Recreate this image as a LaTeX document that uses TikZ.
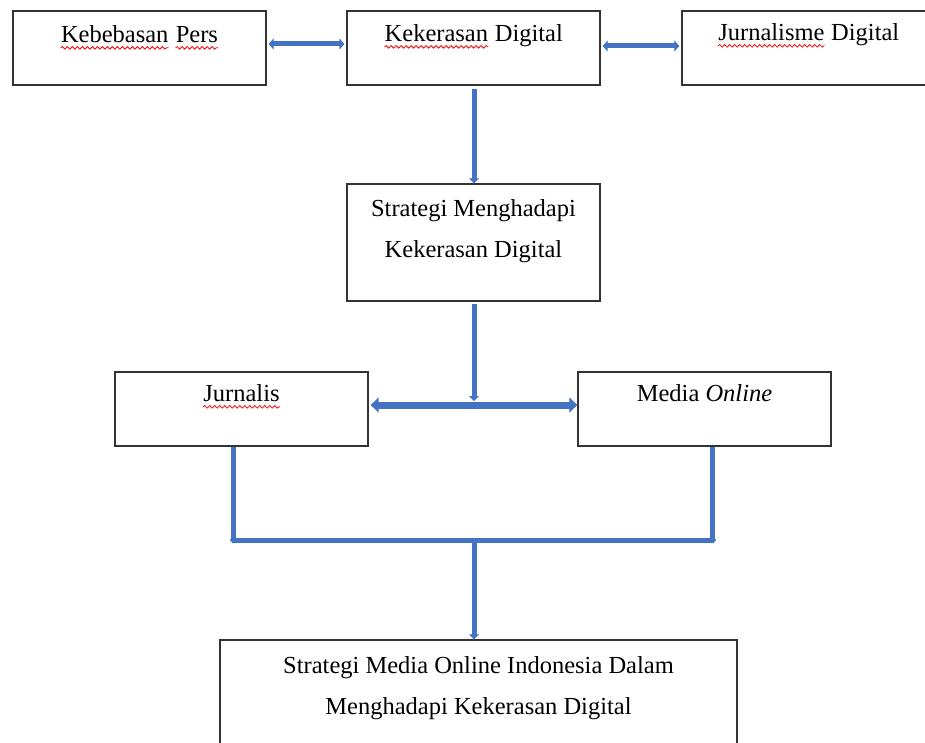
\documentclass[tikz,border=0pt]{standalone}
\usepackage{fontspec}
\setmainfont{Liberation Serif}
\usepackage{xcolor}
\definecolor{panahColor}{RGB}{68, 114, 196}
\usepackage{tikz}
\usetikzlibrary{arrows.meta, decorations.pathmorphing}
\newcommand{\salah}[1]{\tikz[baseline=(w.base)]{\node[inner sep=0pt, anchor=base] (w) {#1};
    \draw[red, line width=0.8pt, decorate, decoration={snake, amplitude=1.3pt, segment length=5pt}] ([yshift=-5.5pt]w.base west) -- ([yshift=-5.5pt]w.base east);}}

\begin{document}
\begin{tikzpicture}[x=1pt, y=-1pt,
    kotak/.style={draw=black!80, line width=1.3pt, inner sep=0pt, minimum width=253pt, minimum height=74pt},
    teks/.style={anchor=base, align=center, inner sep=0pt, font=\fontsize{24.5}{41}\selectfont},
    panah/.style={draw=panahColor, line width=5pt, -{Triangle[length=5pt, width=10pt]}},
    dua/.style={draw=panahColor, line width=5pt, {Triangle[length=5pt, width=11pt]}-{Triangle[length=5pt, width=11pt]}},
    garis/.style={draw=panahColor, line width=5pt}]
    \useasboundingbox (0,0) rectangle (925,743);
    \node[kotak] (pers) at (139.5,48) {};
    \node[kotak] (kekerasan) at (473.5,48) {};
    \node[kotak] (jurnalisme) at (808.5,48) {};
    \node[kotak, minimum height=117pt] (strategi) at (473.5,242.5) {};
    \node[kotak] (jurnalis) at (241.5,409) {};
    \node[kotak] (media) at (704.5,409) {};
    \node[kotak, minimum width=517pt, minimum height=130pt] (hasil) at (478.5,705) {};
    \node[teks] (tPers) at ([yshift=-32pt]pers.north) {\salah{Kebebasan} \salah{Pers}};
    \node[teks] (tKekerasan) at ([yshift=-31pt]kekerasan.north) {\salah{Kekerasan} Digital};
    \node[teks] (tJurnalisme) at ([yshift=-30pt]jurnalisme.north) {\salah{Jurnalisme} Digital};
    \node[teks] (tStrategi) at ([yshift=-74pt]strategi.north) {Strategi Menghadapi\\Kekerasan Digital};
    \node[teks] (tJurnalis) at ([yshift=-30pt]jurnalis.north) {\salah{Jurnalis}};
    \node[teks] (tMedia) at ([yshift=-30pt]media.north) {Media \textit{Online}};
    \node[teks] (tHasil) at ([yshift=-75pt]hasil.north) {Strategi Media Online Indonesia Dalam\\Menghadapi Kekerasan Digital};
    \coordinate (cabang) at (474,401);
    \coordinate (kiri) at (233,540);
    \coordinate (kanan) at (712,540);
    \coordinate (gabung) at (474,540);
    \draw[dua, shorten <=2pt, shorten >=2pt] ([yshift=4pt]pers.east) -- ([yshift=4pt]kekerasan.west);
    \draw[dua, shorten <=2pt, shorten >=2pt] ([yshift=2pt]kekerasan.east) -- ([yshift=2pt]jurnalisme.west);
    \draw[panah, shorten <=3pt] (kekerasan.south -| cabang) -- (strategi.north -| cabang);
    \draw[panah, shorten <=2pt] (strategi.south -| cabang) -- (cabang);
    \draw[dua, line width=7pt, {Triangle[length=8pt, width=15pt]}-{Triangle[length=8pt, width=15pt]}, shorten <=2pt] ([yshift=4pt]jurnalis.east) -- ([yshift=4pt]media.west);
    \draw[garis] (jurnalis.south -| kiri) -- (kiri);
    \draw[garis] (media.south -| kanan) -- (kanan);
    \draw[dua, line width=5pt, {Triangle[length=3pt, width=7pt]}-{Triangle[length=3pt, width=7pt]}] ([xshift=-3pt]kiri) -- ([xshift=4pt]kanan);
    \draw[panah, shorten <=3pt] (gabung) -- (gabung |- hasil.north);
\end{tikzpicture}
\end{document}
